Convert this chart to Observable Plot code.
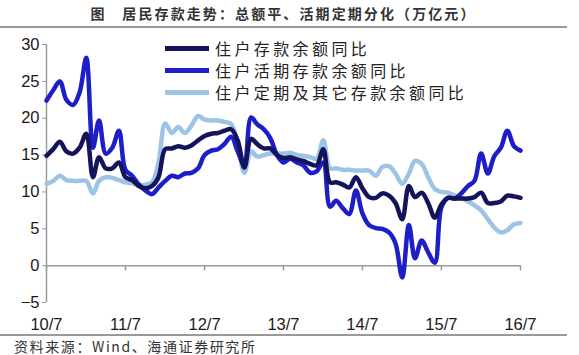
<!DOCTYPE html>
<html>
<head>
<meta charset="utf-8">
<script src="https://cdn.jsdelivr.net/npm/d3@7"></script>
<script src="https://cdn.jsdelivr.net/npm/@observablehq/plot@0.6"></script>
<style>
  html, body { margin: 0; padding: 0; background: #fff; }
  #wrap { position: relative; width: 579px; height: 355px; overflow: hidden; font-family: "Noto Sans CJK SC", sans-serif; }
  #title { position: absolute; left: 0; top: 0; width: 567px; height: 26px; border-bottom: 2px solid #9a9a9a; text-align: center; font-size: 14px; line-height: 26px; font-weight: 700; color: #333; letter-spacing: 2.1px; }
  #chart { position: absolute; left: 0; top: 29px; }
  #source { position: absolute; left: 0; top: 334px; width: 567px; border-top: 2px solid #9a9a9a; font-size: 14px; line-height: 20px; color: #333; padding-left: 14px; letter-spacing: 1.6px; box-sizing: border-box; }
  .leg { position: absolute; left: 165px; height: 20px; font-size: 16px; color: #222; letter-spacing: 3.4px; line-height: 20px; white-space: nowrap; }
  .leg span.sw { display: inline-block; width: 44px; height: 5px; vertical-align: middle; margin-right: 6px; position: relative; top: -2px; }
</style>
</head>
<body>
<div id="wrap">
  <div id="title">图&nbsp;&nbsp;&nbsp;居民存款走势：总额平、活期定期分化（万亿元）</div>
  <div id="chart"></div>
  <div id="source">资料来源：Wind、海通证券研究所</div>
</div>
<script>
// Series names
const seriesNames = ["住户存款余额同比", "住户活期存款余额同比", "住户定期及其它存款余额同比"];
const seriesColors = ["#14145c", "#1e1ec8", "#9dc3e6"];

// Monthly values, 2010-07 .. 2016-07
const totalYoY = [14.9,15.8,16.8,15.5,15.2,16.0,17.9,12.0,14.7,13.2,13.2,14.0,
  12.0,11.6,10.8,10.5,10.8,12.0,15.8,15.9,16.2,16.0,16.3,17.0,
  17.6,17.9,18.0,18.3,18.5,17.0,13.3,17.2,16.5,15.9,15.9,15.0,
  14.6,14.7,14.4,14.2,13.8,13.6,15.8,11.3,11.3,11.0,10.6,12.0,
  10.5,9.3,9.2,9.8,9.5,8.5,6.3,10.8,9.3,9.9,8.5,6.5,
  8.3,9.2,9.1,9.1,9.1,9.3,9.9,8.5,8.5,8.7,9.5,9.4,9.2];
const demandYoY = [22.4,23.8,25.0,22.5,21.8,23.5,28.2,16.0,19.7,15.2,16.0,18.3,
  13.0,12.2,11.0,10.2,9.7,10.6,11.5,12.2,12.0,12.5,12.6,13.2,
  15.0,15.6,15.8,16.5,17.5,15.5,13.6,20.1,19.2,18.5,17.3,15.0,
  14.0,14.5,14.0,13.6,12.6,12.8,14.0,8.0,8.8,7.8,7.0,10.2,
  7.1,5.5,5.1,5.0,4.5,3.0,-1.6,5.5,1.0,3.4,1.8,0.4,
  7.9,9.2,9.1,9.8,10.8,11.5,15.2,12.5,14.8,16.0,18.3,16.2,15.6];
const timeYoY = [11.1,11.5,12.2,11.6,11.5,11.5,11.5,9.8,11.5,12.0,11.9,11.6,
  11.3,11.2,10.9,11.0,11.3,14.0,19.3,18.0,18.8,18.0,19.0,20.3,
  19.8,19.7,19.7,19.5,19.2,16.5,12.6,15.5,14.8,15.0,15.2,15.2,
  15.2,15.3,15.0,14.9,14.7,14.5,17.0,13.2,13.2,13.0,13.0,12.9,
  12.9,12.9,12.2,13.4,13.5,12.5,11.1,12.5,14.2,13.8,12.0,10.4,
  10.0,9.9,9.5,9.2,8.7,8.2,7.5,6.3,5.2,4.5,4.8,5.6,5.8];

const xTickLabels = ["10/7","11/7","12/7","13/7","14/7","15/7","16/7"];
const yTicks = [-5,0,5,10,15,20,25,30];

const start = new Date(Date.UTC(2010, 6, 1));
const months = d3.utcMonth.range(start, d3.utcMonth.offset(start, totalYoY.length));
const xTicks = xTickLabels.map((_, i) => d3.utcYear.offset(start, i));

const rows = [];
[[timeYoY, 2], [demandYoY, 1], [totalYoY, 0]].forEach(([arr, k]) => {
  arr.forEach((v, i) => rows.push({date: months[i], value: v, series: seriesNames[k], order: k}));
});

const chart = Plot.plot({
  width: 579,
  height: 306,
  marginLeft: 46,
  marginRight: 59,
  marginTop: 15,
  marginBottom: 33,
  style: {fontFamily: "Liberation Sans, Arial, sans-serif", background: "transparent"},
  x: {type: "utc", domain: [xTicks[0], xTicks[xTicks.length - 1]]},
  y: {domain: [-5, 30]},
  color: {domain: seriesNames, range: seriesColors},
  marks: [
    Plot.ruleX([xTicks[0]], {y1: -5, y2: 30, stroke: "#9a9a9a", strokeWidth: 1.5}),
    Plot.ruleY([0], {x1: xTicks[0], x2: xTicks[xTicks.length - 1], stroke: "#9a9a9a", strokeWidth: 1.5}),
    Plot.ruleX(xTicks, {y1: 0, y2: -0.7, stroke: "#9a9a9a", strokeWidth: 1.5}),
    Plot.axisY({ticks: yTicks, tickSize: 4, tickPadding: 3, fontSize: 16.5, stroke: "#9a9a9a", color: "#1a1a1a", label: null}),
    Plot.axisX({ticks: xTicks, tickFormat: (d, i) => xTickLabels[i], tickSize: 0, tickPadding: 16, fontSize: 16.5, color: "#1a1a1a", label: null}),
    Plot.line(rows, {x: "date", y: "value", z: "series", stroke: "series", strokeWidth: 4.5, curve: "catmull-rom", strokeLinejoin: "round"})
  ]
});
document.getElementById("chart").appendChild(chart);

// Legend
const wrap = document.getElementById("wrap");
const legTops = [38, 60, 82];
seriesNames.forEach((name, i) => {
  const d = document.createElement("div");
  d.className = "leg";
  d.style.top = legTops[i] + "px";
  const sw = document.createElement("span");
  sw.className = "sw";
  sw.style.background = seriesColors[i];
  d.appendChild(sw);
  d.appendChild(document.createTextNode(name));
  wrap.appendChild(d);
});
</script>
</body>
</html>
